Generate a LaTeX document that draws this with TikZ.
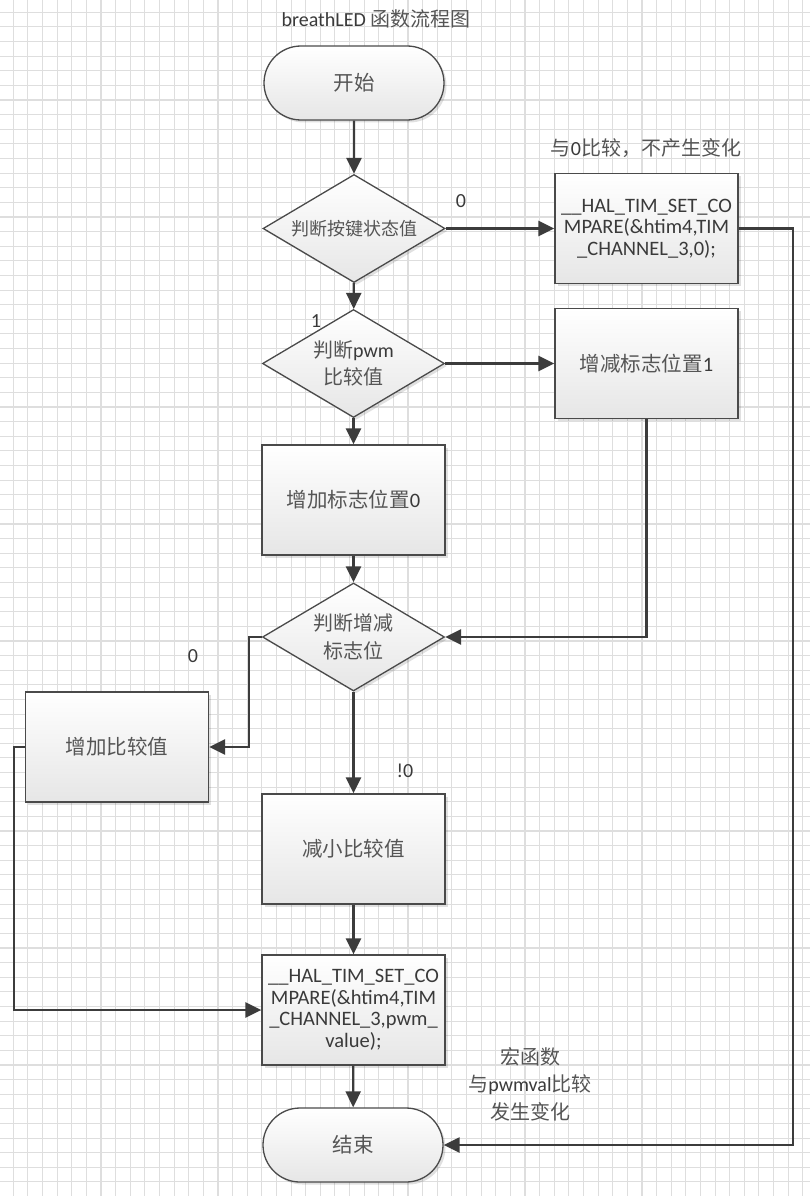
\documentclass[tikz,border=0pt]{standalone}
\usepackage{fontspec}
\setmainfont{Carlito}
\newfontfamily\cjkf{Noto Sans CJK SC}
\newcommand{\cjk}{\cjkf\color{cjkc}}
\usetikzlibrary{shapes.geometric,shapes.misc,arrows.meta,shadows}
\definecolor{edgec}{HTML}{4A4A4A}
\definecolor{connc}{HTML}{3C3C3C}
\definecolor{txtc}{HTML}{3A3A3A}
\definecolor{cjkc}{HTML}{555555}
\definecolor{gridc}{HTML}{DEDEDE}
\definecolor{fillb}{HTML}{E6E6E6}
\begin{document}
\begin{tikzpicture}[x=1pt,y=-1pt,
  base/.style={draw=edgec, line width=1.3pt, top color=white, bottom color=fillb,
    text=txtc, font=\fontsize{20.5}{21.5}\selectfont, align=center, inner sep=2pt,
    drop shadow={shadow xshift=2.5pt, shadow yshift=-2.5pt, fill=black, opacity=0.12}},
  procbox/.style={base, rectangle, minimum width=183pt, minimum height=110pt},
  decide/.style={base, diamond, shape aspect=1.65, minimum width=182pt, minimum height=108pt, inner sep=0pt},
  term/.style={base, rounded rectangle, minimum width=184pt, minimum height=74pt},
  conn/.style={draw=connc, line width=2.4pt, -{Triangle[length=16pt,width=15pt]}},
  lbl/.style={text=txtc, font=\fontsize{20}{27.5}\selectfont, align=center, inner sep=0pt}
]
\useasboundingbox (0,0) rectangle (810,1196);
\fill[white] (0,0) rectangle (810,1196);
\foreach \i in {0,...,54} \draw[gridc, line width=1.1pt] ({13.3+14.62*\i},0) -- ({13.3+14.62*\i},1196);
\foreach \j in {0,...,80} \draw[gridc, line width=1.1pt] (0,{12.3+14.62*\j}) -- (810,{12.3+14.62*\j});

\node[lbl] (title) at (376,19) {breathLED {\cjk 函数流程图}};
\node[term] (start) at (354,83) {{\cjk 开始}};
\node[decide, font=\fontsize{18}{20}\selectfont] (d1) at (354,228.5) {{\cjk 判断按键状态值}};
\node[procbox] (hal1) at (646.5,228.5) {\_\_HAL\_TIM\_SET\_CO\\MPARE(\&htim4,TIM\\\_CHANNEL\_3,0);};
\node[lbl] (note1) at (646,148) {{\cjk 与}0{\cjk 比较，不产生变化}};
\node[lbl] (l0a) at (461,201) {0};
\node[decide, font=\fontsize{20}{27.5}\selectfont] (d2) at (353.5,363.5) {{\cjk 判断}pwm\\{\cjk 比较值}};
\node[lbl] (l1) at (316,321) {1};
\node[procbox] (flag1) at (646.5,363.5) {{\cjk 增减标志位置}1};
\node[procbox] (flag0) at (353.5,500) {{\cjk 增加标志位置}0};
\node[decide, font=\fontsize{20}{27.5}\selectfont] (d3) at (353.5,637) {{\cjk 判断增减}\\{\cjk 标志位}};
\node[procbox] (inc) at (117,747) {{\cjk 增加比较值}};
\node[lbl] (l0b) at (193,656) {0};
\node[lbl] (l0c) at (405,771) {!0};
\node[procbox] (dec) at (353.5,849) {{\cjk 减小比较值}};
\node[procbox] (hal2) at (353.5,1010) {\_\_HAL\_TIM\_SET\_CO\\MPARE(\&htim4,TIM\\\_CHANNEL\_3,pwm\_\\value);};
\node[lbl] (note2) at (530,1084) {{\cjk 宏函数}\\{\cjk 与}pwmval{\cjk 比较}\\{\cjk 发生变化}};
\node[term] (end) at (353,1145) {{\cjk 结束}};

\coordinate (rtx) at (793,0);
\coordinate (lx) at (249,0);
\coordinate (llx) at (14,0);

\draw[conn] (start) -- (d1);
\draw[conn] (d1) -- (hal1);
\draw[conn] (hal1.east) -- (hal1.east -| rtx) |- (end.east);
\draw[conn] (d1) -- (d2);
\draw[conn] (d2) -- (flag1);
\draw[conn] (flag1.south) |- (d3.east);
\draw[conn] (d2) -- (flag0);
\draw[conn] (flag0) -- (d3);
\draw[conn] (d3.west) -- (d3.west -| lx) |- (inc.east);
\draw[conn] (d3) -- (dec);
\draw[conn] (dec) -- (hal2);
\draw[conn] (inc.west) -- (inc.west -| llx) |- (hal2.west);
\draw[conn] (hal2) -- (end);
\end{tikzpicture}
\end{document}
